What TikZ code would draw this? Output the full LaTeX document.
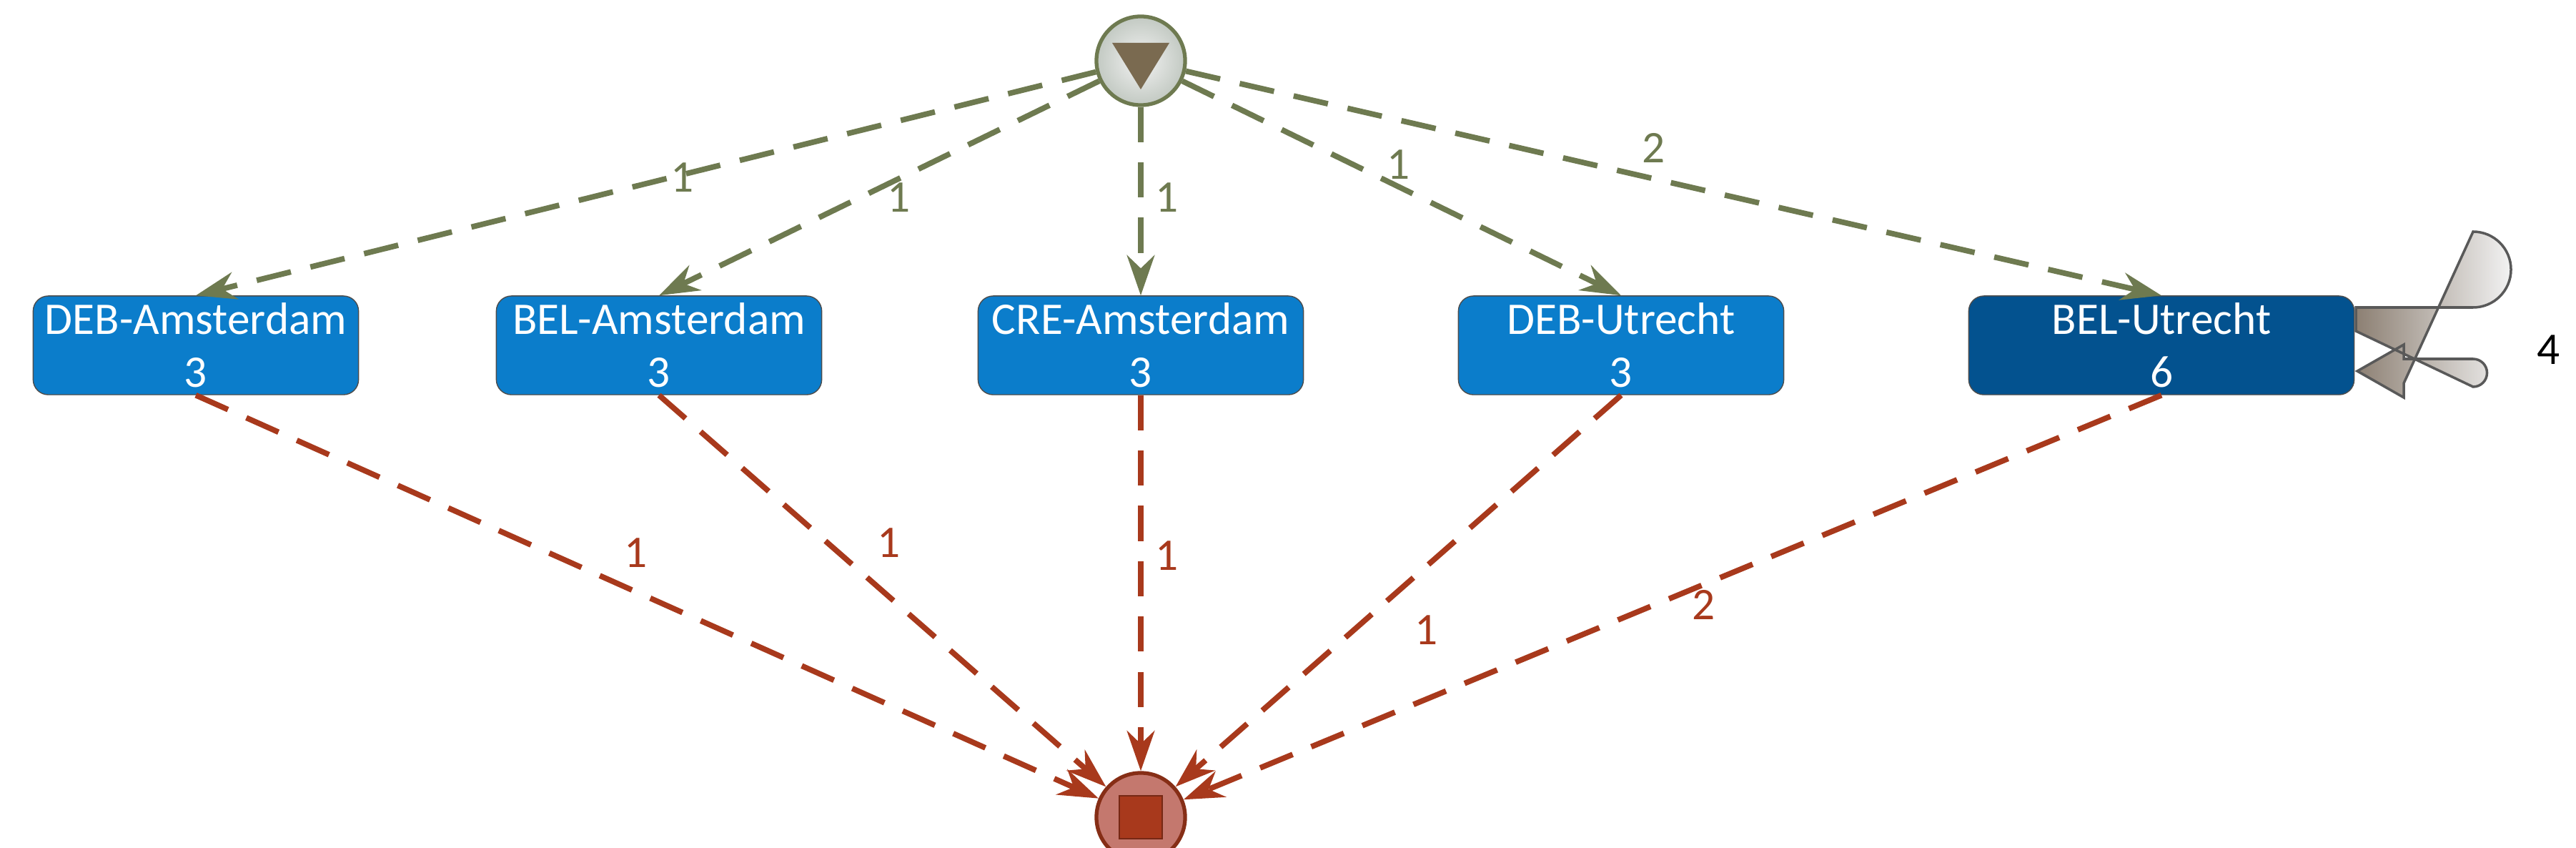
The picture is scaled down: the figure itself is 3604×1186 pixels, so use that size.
\documentclass[tikz,border=0pt]{standalone}
\usepackage{fontspec}
\setmainfont{Carlito}
\usetikzlibrary{arrows.meta}
\definecolor{gr}{HTML}{6E7A50}
\definecolor{rd}{HTML}{A8391C}
\definecolor{bx}{HTML}{0B7DCB}
\definecolor{bxd}{HTML}{03528F}
\begin{document}
\begin{tikzpicture}[x=0.01cm,y=-0.01cm,
 box/.style={draw=black!70,fill=bx,rounded corners=6pt,minimum width=4.55cm,minimum height=1.38cm,text=white,font=\fontsize{18}{21}\selectfont,align=center,inner sep=0pt},
 ge/.style={draw=gr,line width=2.2pt,dash pattern=on 14pt off 8pt,-{Stealth[length=16pt,width=11pt]}},
 re/.style={draw=rd,line width=2.2pt,dash pattern=on 14pt off 8pt,-{Stealth[length=16pt,width=11pt]}},
 gl/.style={text=gr,font=\fontsize{18}{21}\selectfont},
 rl/.style={text=rd,font=\fontsize{18}{21}\selectfont}]
\useasboundingbox (0,0) rectangle (3604,1186);
\node[circle,minimum size=1.24cm,draw=gr,line width=1.5pt,inner color=gray!10,outer color=gray!40!green!10!gray!45] (s) at (1596,85) {};
\fill[fill={rgb,255:red,122;green,106;blue,80}] (1556,60) -- (1636,60) -- (1596,125) -- cycle;
\node[circle,minimum size=1.24cm,draw=rd!80!black,line width=1.5pt,fill={rgb,255:red,196;green,120;blue,110}] (e) at (1596,1143) {};
\fill[rd,draw=rd!70!black] (1566,1113) rectangle (1626,1173);
\node[box] (a) at (274,483) {DEB-Amsterdam\\3};
\node[box] (b) at (922,483) {BEL-Amsterdam\\3};
\node[box] (c) at (1596,483) {CRE-Amsterdam\\3};
\node[box] (d) at (2268,483) {DEB-Utrecht\\3};
\node[box,fill=bxd,minimum width=5.39cm] (f) at (3024,483) {BEL-Utrecht\\6};
\foreach \n in {a,b,c,d,f}{\draw[ge] (s) -- (\n.north); \draw[re] (\n.south) -- (e);}
\node[gl] at (955,248) {1};
\node[gl] at (1258,276) {1};
\node[gl] at (1633,276) {1};
\node[gl] at (1957,230) {1};
\node[gl] at (2314,207) {2};
\node[rl] at (890,773) {1};
\node[rl] at (1244,759) {1};
\node[rl] at (1633,777) {1};
\node[rl] at (1996,881) {1};
\node[rl] at (2383,846) {2};
\shade[left color=gray!80!brown,right color=gray!10,draw=gray!70!black,line width=1pt]
 (3296,430) -- (3460,430) arc[start angle=90,end angle=-90,radius=53] -- (3363,536) -- (3363,556) -- (3298,519) -- (3363,482) -- (3363,502) -- (3460,502) arc[start angle=-90,end angle=90,radius=19.5] -- (3296,463) -- cycle;
\node[font=\fontsize{18}{21}\selectfont] (l4) at (3565,489) {4};
\end{tikzpicture}
\end{document}
